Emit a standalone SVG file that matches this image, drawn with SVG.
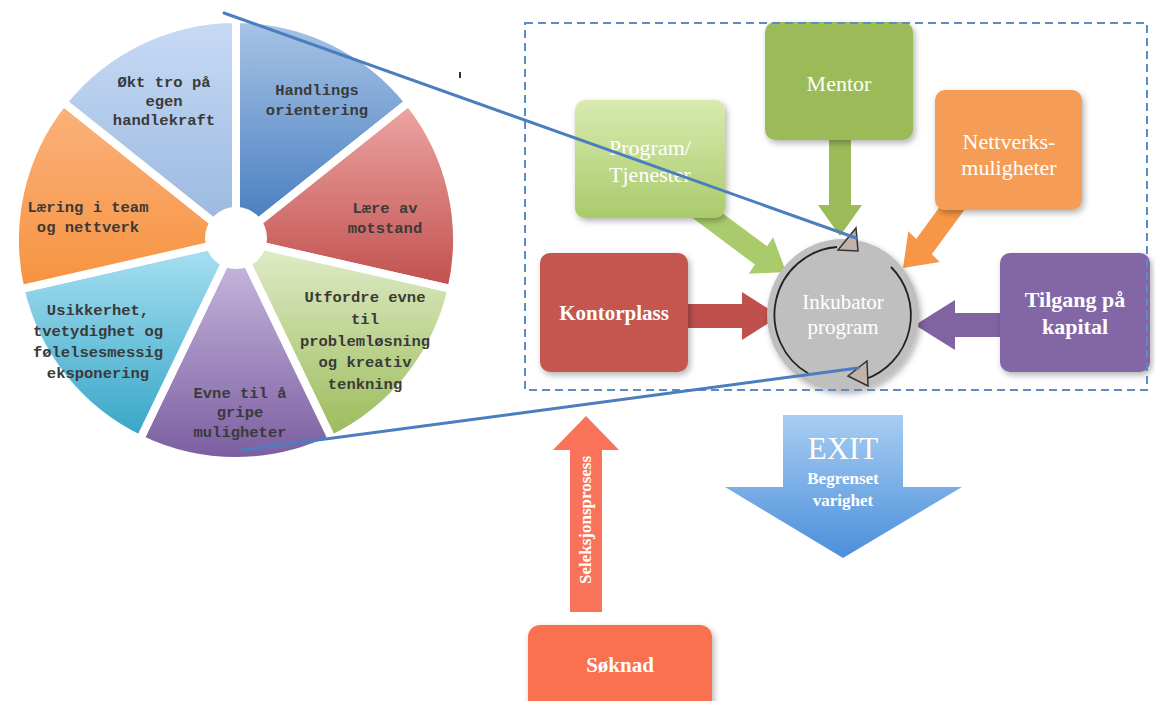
<svg xmlns="http://www.w3.org/2000/svg" width="1155" height="701" viewBox="0 0 1155 701">
<style>
.pt{font-family:"Liberation Mono","Courier New",monospace;font-size:15.5px;font-weight:bold;fill:#3a3a3a;text-anchor:middle}
.bt{font-family:"Liberation Serif","Times New Roman",serif;fill:#fff;text-anchor:middle}
.slice{stroke:#fff;stroke-width:8;stroke-linejoin:round}
.box{filter:url(#sh)}
.zl{stroke:#4a7ebf;stroke-width:3;fill:none;stroke-linecap:round}
</style>
<defs>
<filter id="sh" x="-20%" y="-20%" width="140%" height="140%"><feDropShadow dx="2" dy="3" stdDeviation="3" flood-color="#000" flood-opacity="0.3"/></filter>
<linearGradient id="gH" x1="0" y1="0" x2="0" y2="1"><stop offset="0" stop-color="#a9c4e6"/><stop offset="1" stop-color="#4079bd"/></linearGradient>
<linearGradient id="gL" x1="0" y1="0" x2="0" y2="1"><stop offset="0" stop-color="#eda6a4"/><stop offset="1" stop-color="#c0504d"/></linearGradient>
<linearGradient id="gU" x1="0" y1="0" x2="0" y2="1"><stop offset="0" stop-color="#e2edcb"/><stop offset="1" stop-color="#9bbb59"/></linearGradient>
<linearGradient id="gE" x1="0" y1="0" x2="0" y2="1"><stop offset="0" stop-color="#cdbfe2"/><stop offset="1" stop-color="#7a5da0"/></linearGradient>
<linearGradient id="gS" x1="0" y1="0" x2="0" y2="1"><stop offset="0" stop-color="#abe2f3"/><stop offset="1" stop-color="#36a5c6"/></linearGradient>
<linearGradient id="gT" x1="0" y1="0" x2="0" y2="1"><stop offset="0" stop-color="#fbb27d"/><stop offset="1" stop-color="#f6923f"/></linearGradient>
<linearGradient id="gO" x1="0" y1="0" x2="0" y2="1"><stop offset="0" stop-color="#c8dbf5"/><stop offset="1" stop-color="#97b6de"/></linearGradient>
<linearGradient id="gP" x1="0" y1="0" x2="0" y2="1"><stop offset="0" stop-color="#d9eab0"/><stop offset="1" stop-color="#a9cb6b"/></linearGradient>
<linearGradient id="gX" x1="0" y1="0" x2="0" y2="1"><stop offset="0" stop-color="#a8cdf2"/><stop offset="1" stop-color="#4b8fdb"/></linearGradient>
</defs>

<g id="pie">
<path class="slice" fill="url(#gH)" d="M236 240 L236 19 A221 221 0 0 1 408.8 102.2 Z"/>
<path class="slice" fill="url(#gL)" d="M236 240 L408.8 102.2 A221 221 0 0 1 451.5 289.2 Z"/>
<path class="slice" fill="url(#gU)" d="M236 240 L451.5 289.2 A221 221 0 0 1 331.9 439.1 Z"/>
<path class="slice" fill="url(#gE)" d="M236 240 L331.9 439.1 A221 221 0 0 1 140.1 439.1 Z"/>
<path class="slice" fill="url(#gS)" d="M236 240 L140.1 439.1 A221 221 0 0 1 20.5 289.2 Z"/>
<path class="slice" fill="url(#gT)" d="M236 240 L20.5 289.2 A221 221 0 0 1 63.2 102.2 Z"/>
<path class="slice" fill="url(#gO)" d="M236 240 L63.2 102.2 A221 221 0 0 1 236 19 Z"/>
<circle cx="236" cy="238" r="31" fill="#fff"/>
<text class="pt" x="317" y="95">Handlings</text>
<text class="pt" x="317" y="115">orientering</text>
<text class="pt" x="385" y="213">Lære av</text>
<text class="pt" x="385" y="233">motstand</text>
<text class="pt" x="365" y="302">Utfordre evne</text>
<text class="pt" x="365" y="324">til</text>
<text class="pt" x="365" y="346">problemløsning</text>
<text class="pt" x="365" y="367">og kreativ</text>
<text class="pt" x="365" y="389">tenkning</text>
<text class="pt" x="240" y="398">Evne til å</text>
<text class="pt" x="240" y="417">gripe</text>
<text class="pt" x="240" y="437">muligheter</text>
<text class="pt" x="98" y="315">Usikkerhet,</text>
<text class="pt" x="98" y="336">tvetydighet og</text>
<text class="pt" x="98" y="357">følelsesmessig</text>
<text class="pt" x="98" y="378">eksponering</text>
<text class="pt" x="88" y="212">Læring i team</text>
<text class="pt" x="88" y="232">og nettverk</text>
<text class="pt" x="164" y="87">Økt tro på</text>
<text class="pt" x="164" y="106">egen</text>
<text class="pt" x="164" y="125">handlekraft</text>
</g>

<g id="connectors">
<polygon fill="#a9cb6b" points="686,213 754.9,264.6 748.8,273.8 786,272 773.2,237.2 767.1,246.2 698,195"/>
<polygon fill="#9bbb59" points="829,130 851,130 851,205 862,205 840,236 818,205 829,205"/>
<polygon fill="#f79646" points="952,190 916.2,238.9 908.3,231.2 903,268 939.7,262.0 931.8,254.3 968,205"/>
<polygon fill="#c0504d" points="680,304 742,304 742,292 780,316 742,340 742,328 680,328"/>
<polygon fill="#8064a2" points="1010,313 955,313 955,300 915,325 955,350 955,337 1010,337"/>
<polygon fill="#f9735b" points="570,612 570,450 553,450 586,416 619,450 602,450 602,612"/>
<text class="bt" transform="translate(591,520) rotate(-90)" font-size="17" font-weight="bold">Seleksjonsprosess</text>
</g>

<g id="mentor"><rect class="box" x="765" y="22" width="148" height="118" rx="10" fill="#9bbb59"/><text class="bt" x="839" y="91" font-size="22">Mentor</text></g>
<g id="program"><rect class="box" x="575" y="100" width="150" height="118" rx="10" fill="url(#gP)"/><text class="bt" x="650" y="155" font-size="22">Program/</text><text class="bt" x="650" y="182" font-size="22">Tjenester</text></g>
<g id="nettverk"><rect class="box" x="935" y="90" width="147" height="120" rx="10" fill="#f59d57"/><text class="bt" x="1009" y="149" font-size="22">Nettverks-</text><text class="bt" x="1009" y="175" font-size="22">muligheter</text></g>
<g id="kontorplass"><rect class="box" x="540" y="253" width="148" height="119" rx="10" fill="#c4554f"/><text class="bt" x="614" y="320" font-size="21" font-weight="bold">Kontorplass</text></g>
<g id="tilgang"><rect class="box" x="1000" y="253" width="150" height="119" rx="10" fill="#8266a6"/><text class="bt" x="1075" y="307" font-size="22" font-weight="bold">Tilgang på</text><text class="bt" x="1075" y="334" font-size="22" font-weight="bold">kapital</text></g>
<g id="inkubator">
<circle class="box" cx="843" cy="315" r="76" fill="#bfbfbf"/>
<path d="M809 374 A68 68 0 0 1 837 247" fill="none" stroke="#222" stroke-width="1.8"/>
<path d="M891 267 A68 68 0 0 1 866 379" fill="none" stroke="#222" stroke-width="1.8"/>
<polygon points="838,250 858,251 856,228" fill="#c2b2aa" stroke="#333" stroke-width="1.5"/>
<polygon points="848,376 867,361 868,386" fill="#c2b2aa" stroke="#333" stroke-width="1.5"/>
<text class="bt" x="843" y="309" font-size="21">Inkubator</text>
<text class="bt" x="843" y="334" font-size="21">program</text>
</g>
<g id="exit"><polygon points="783,415 903,415 903,487 962,487 843,558 725,487 783,487" fill="url(#gX)"/><text class="bt" x="843" y="459" font-size="31">EXIT</text><text class="bt" x="843" y="484" font-size="17" font-weight="bold">Begrenset</text><text class="bt" x="843" y="506" font-size="17" font-weight="bold">varighet</text></g>
<g id="soknad"><rect class="box" x="528" y="625" width="184" height="95" rx="12" fill="#f9714f"/><text class="bt" x="620" y="672" font-size="21" font-weight="bold">Søknad</text></g>

<g id="frame"><rect x="525" y="23" width="622" height="367" fill="none" stroke="#5a8dc8" stroke-width="2" stroke-dasharray="8 5"/></g>
<g id="zoomlines">
<line class="zl" x1="224" y1="13" x2="856" y2="238"/>
<line class="zl" x1="243" y1="450" x2="858" y2="368"/>
<line x1="460" y1="72" x2="460" y2="78" stroke="#333" stroke-width="2"/>
</g>
</svg>
